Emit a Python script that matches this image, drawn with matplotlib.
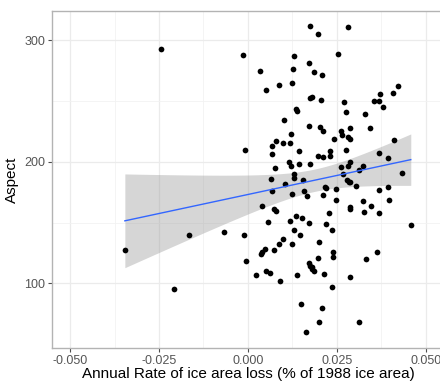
import numpy as np
import matplotlib
matplotlib.use("Agg")
import matplotlib.pyplot as plt

plt.rcParams['font.family'] = ['Liberation Sans', 'DejaVu Sans']

# annual rate of ice area loss vs aspect
rate = [
    -0.0346, -0.0245, -0.0208, -0.0167, -0.0066, -0.0013, -0.0007, -0.0012, -0.0005, 0.0024,
    0.0033, 0.0039, 0.0038, 0.0041, 0.0048, 0.0050, 0.0051, 0.0062, 0.0056, 0.0064,
    0.0067, 0.0069, 0.0069, 0.0073, 0.0078, 0.0073, 0.0075, 0.0079, 0.0088, 0.0089,
    0.0088, 0.0100, 0.0101, 0.0099, 0.0103, 0.0115, 0.0117, 0.0119, 0.0121, 0.0122,
    0.0124, 0.0125, 0.0125, 0.0128, 0.0130, 0.0130, 0.0131, 0.0130, 0.0135, 0.0136,
    0.0138, 0.0138, 0.0143, 0.0145, 0.0147, 0.0149, 0.0152, 0.0154, 0.0158, 0.0165,
    0.0164, 0.0172, 0.0173, 0.0173, 0.0176, 0.0174, 0.0176, 0.0179, 0.0172, 0.0176,
    0.0179, 0.0181, 0.0185, 0.0185, 0.0197, 0.0196, 0.0199, 0.0199, 0.0197, 0.0204,
    0.0206, 0.0208, 0.0209, 0.0211, 0.0212, 0.0212, 0.0213, 0.0217, 0.0221, 0.0221,
    0.0228, 0.0232, 0.0232, 0.0236, 0.0237, 0.0239, 0.0240, 0.0243, 0.0247, 0.0248,
    0.0254, 0.0261, 0.0263, 0.0264, 0.0268, 0.0269, 0.0276, 0.0277, 0.0279, 0.0281,
    0.0282, 0.0284, 0.0282, 0.0286, 0.0286, 0.0287, 0.0286, 0.0288, 0.0286, 0.0286,
    0.0304, 0.0311, 0.0313, 0.0323, 0.0323, 0.0327, 0.0329, 0.0331, 0.0342, 0.0346,
    0.0354, 0.0364, 0.0369, 0.0368, 0.0370, 0.0372, 0.0369, 0.0379, 0.0393, 0.0395,
    0.0397, 0.0409, 0.0412, 0.0421, 0.0433, 0.0458,
]
aspect = [
    127, 293, 95, 140, 142, 288, 209.6, 139.5, 118.7, 106.7,
    274.4, 163.3, 124.2, 125.6, 128, 259.4, 110, 108.6, 150.5, 185.8,
    206.3, 212.9, 176, 161, 159.8, 127, 194.5, 217.2, 263.5, 101.5,
    132.7, 136.3, 234.7, 215, 182, 199.7, 151.6, 215.6, 222.4, 196.4,
    264.6, 173.2, 132.7, 276.6, 286.7, 190.2, 186.9, 143.9, 243, 155,
    241.9, 106.7, 209, 198, 139.5, 82.9, 153.6, 185, 176, 171.5,
    59.6, 281.3, 150, 229.3, 252.1, 311.4, 197.8, 253.2, 116.3, 114.6,
    113, 111.6, 110.3, 273.6, 305, 204.4, 67.9, 134.3, 120.7, 228.7,
    250.6, 271.4, 79.9, 204.1, 225.2, 172.6, 107.8, 179.5, 178.1, 149.1,
    157.6, 209, 204.7, 143.9, 97.1, 125.6, 122, 218.9, 177.3, 168.3,
    288.9, 195.6, 225.2, 221.6, 189.9, 249, 240.8, 209.8, 185, 310.5,
    220.2, 183.6, 196.7, 228.1, 218.3, 199.7, 183, 162.5, 160.9, 105.1,
    180.3, 193.2, 67.9, 196.4, 167.4, 159, 239.4, 119.8, 227.9, 163.6,
    250, 125.6, 250, 207.1, 176.7, 255.5, 157.6, 245.1, 202.7, 179.5,
    168.3, 256.6, 218, 262.1, 190.4, 147.7,
]
x_ticks = [-0.050, -0.025, 0.000, 0.025, 0.050]
x_labels = ['-0.050', '-0.025', '0.000', '0.025', '0.050']
y_ticks = [100, 200, 300]

x = np.array(rate)
y = np.array(aspect)

# linear fit with 95% confidence band, like geom_smooth(method = "lm")
n = len(x)
slope, intercept = np.polyfit(x, y, 1)
resid = y - (slope * x + intercept)
s = np.sqrt(np.sum(resid ** 2) / (n - 2))
xs = np.linspace(x.min(), x.max(), 80)
ys = slope * xs + intercept
se = s * np.sqrt(1 / n + (xs - x.mean()) ** 2 / np.sum((x - x.mean()) ** 2))
t_crit = 1.977

fig = plt.figure(figsize=(4.4, 3.82), dpi=100)
ax = fig.add_axes([52.3 / 440, 1 - 347.7 / 382, (443.5 - 52.3) / 440, (347.7 - 11) / 382])

ax.fill_between(xs, ys - t_crit * se, ys + t_crit * se, color='#999999', alpha=0.4, lw=0, zorder=2)
ax.scatter(x, y, s=17, color='black', lw=0, zorder=3)
ax.plot(xs, ys, color='#3366FF', lw=1.0, zorder=4)

ax.set_xlim(-0.055, 0.055)
yr = y.max() - y.min()
ax.set_ylim(y.min() - 0.05 * yr, y.max() + 0.05 * yr)

ax.set_xticks(x_ticks)
ax.set_xticklabels(x_labels)
ax.set_yticks(y_ticks)
ax.set_xticks([-0.0375, -0.0125, 0.0125, 0.0375], minor=True)
ax.set_yticks([150, 250], minor=True)
ax.grid(which='major', color='#EBEBEB', lw=0.9)
ax.grid(which='minor', color='#F2F2F2', lw=0.6)
ax.set_axisbelow(True)

ax.tick_params(which='major', length=3, width=0.8, color='#4D4D4D',
               labelsize=9, labelcolor='#555555', pad=2)
ax.tick_params(which='minor', length=0)
for sp in ax.spines.values():
    sp.set_color('#B3B3B3')
    sp.set_linewidth(1.0)

ax.set_xlabel('Annual Rate of ice area loss (% of 1988 ice area)', fontsize=11, labelpad=0)
ax.set_ylabel('Aspect', fontsize=11, labelpad=4)

fig.savefig('out.png', dpi=100)
